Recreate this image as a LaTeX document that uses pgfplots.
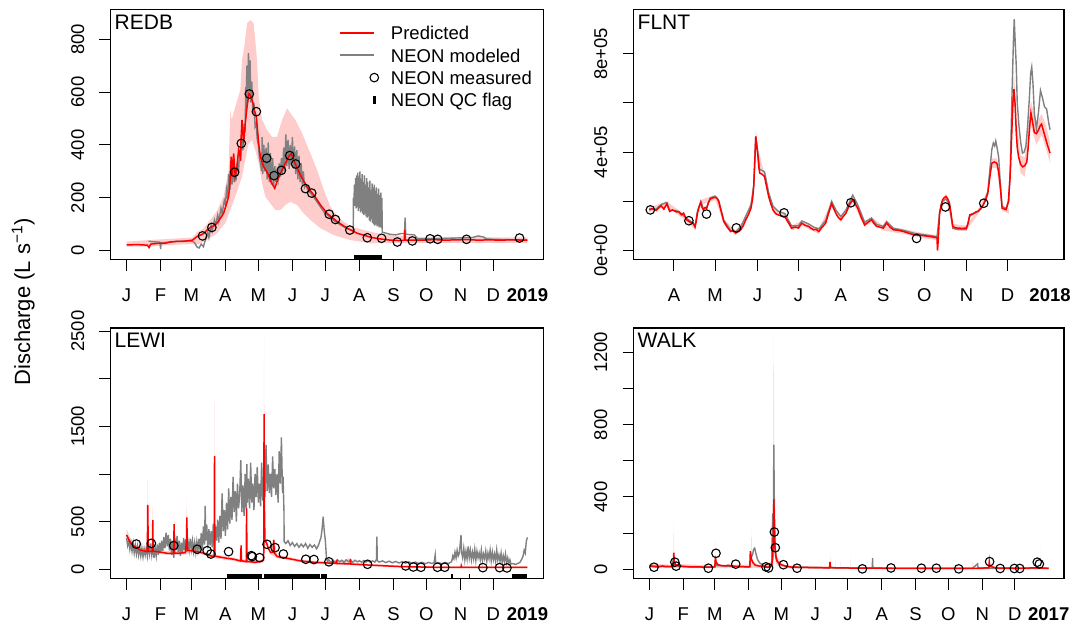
\documentclass[border=0pt]{standalone}
\usepackage{pgfplots}
\pgfplotsset{compat=1.18}
\usepackage{fontspec}
\setmainfont{Liberation Sans}
\definecolor{rgray}{RGB}{128,128,128}
\definecolor{pred}{RGB}{255,0,0}
\newcommand{\tfont}{\fontsize{18.5}{22}\selectfont}
\tikzset{plab/.style={anchor=north west, inner sep=0pt, xshift=4pt, yshift=-5pt, font=\fontsize{21}{24}\selectfont}}
\newcommand{\legkey}[1]{\llap{\textcolor{#1}{\rule[5.65pt]{34.5pt}{2pt}}\hspace{16.5pt}}}
\pgfplotsset{
  rpanel/.style={
    scale only axis,
    axis line style={black, line width=1.1pt},
    tick align=outside,
    tick pos=left,
    major tick length=11pt,
    tick style={black, line width=1pt},
    tick label style={font=\tfont},
    xticklabel style={anchor=north, inner sep=0pt, yshift=-18pt},
    yticklabel style={xshift=-15pt, rotate=90, anchor=south, inner sep=0pt},
    scaled y ticks=false,
    extra x tick style={major tick style={draw=none}},
  },
  emptyleg/.style={legend image code/.code={\path[draw=none,fill=none] (0pt,-6pt) rectangle (51pt,6pt);}},
  circleg/.style={legend image code/.code={\path[draw=none,fill=none] (0pt,-6pt) rectangle (51pt,6pt); \draw[black, line width=1.1pt] (34.3pt,0pt) circle (4.3pt);}},
  qcleg/.style={legend image code/.code={\path[draw=none,fill=none] (0pt,-6pt) rectangle (51pt,6pt); \fill[black] (33.3pt,-3.3pt) rectangle (35.3pt,3.3pt);}},
  predband/.style={draw=none, fill=red, fill opacity=0.2, forget plot},
  neonline/.style={rgray, line width=1.4pt, forget plot},
  predline/.style={pred, line width=1.5pt, forget plot},
  meas/.style={only marks, mark=o, mark size=4.3pt, mark options={black, line width=1.1pt}, forget plot},
  qc/.style={black, line width=4.5pt, forget plot},
}
\begin{document}
\begin{tikzpicture}
\useasboundingbox (0,0) rectangle (1073pt,624pt);
% ================= REDB =================
\begin{axis}[rpanel, at={(110.5pt,364.3pt)}, anchor=south west, width=433pt, height=249.8pt,
  xmin=-14.6, xmax=379.6, ymin=-34, ymax=911,
  xtick={0,31,59,90,120,151,181,212,243,273,304,334},
  xticklabels={J,F,M,A,M,J,J,A,S,O,N,D},
  extra x ticks={365}, extra x tick labels={\textbf{2019}},
  ytick={0,200,400,600,800}, yticklabels={0,200,400,600,800},
  legend style={at={(axis description cs:0.530,0.9333)}, anchor=north west, draw=none, fill=none,
    inner sep=0pt, outer sep=0pt, row sep=8.9pt, font=\tfont,
    nodes={inner sep=0pt, text height=13.3pt, text depth=0pt}},
  legend cell align=left,
]
\addlegendimage{emptyleg}
\addlegendentry{\legkey{pred}Predicted}
\addlegendimage{emptyleg}
\addlegendentry{\legkey{rgray}NEON modeled}
\addlegendimage{circleg}
\addlegendentry{NEON measured}
\addlegendimage{qcleg}
\addlegendentry{NEON QC flag}
\addplot[predband] coordinates {
(0,34) (19,40) (40,45) (60,50) (64,70) (69.6,82) (73.2,100) (77,120) (82.3,150) (86,185) (88.3,204) (92.9,305) (94.4,532) (95.7,495) (99,545) (103.6,608) (105.1,721) (107.2,772) (109.7,860) (112.7,873) (115.7,860) (117.2,797) (118.8,721) (120.3,583) (123.4,495) (127.9,457) (132.5,431) (137,431) (141.6,495) (146.2,539) (149.2,520) (153.7,495) (159.9,444) (167.4,368) (173.5,305) (179.6,230) (185.7,166) (191.8,129) (203.9,91) (222.2,72) (235,60) (253,55) (253.2,95) (253.6,55) (270,52) (300,52) (330,51) (365,50)
(365,30) (300,30) (260,30) (222.2,28) (203.9,40) (188.7,59) (176.6,85) (167.4,116) (161.3,141) (155.3,173) (149.2,185) (144.6,173) (140.1,154) (135.5,154) (130.9,179) (126.4,204) (123.4,255) (120.3,331) (117.2,381) (114.2,419) (111.1,406) (108.1,343) (105.1,280) (102,242) (99,204) (94.4,154) (89.9,104) (82.3,66) (73.2,40) (64,22) (60,25) (40,22) (19,15) (0,15)
};
\addplot[neonline] coordinates {
(20,36) (24,34) (28,33) (30.5,32) (31,6) (31.5,30) (38,32) (45,35) (55,37) (60,36) (62,30) (64,15) (66,10) (68,25) (70,15) (72,45) (74,70) (75,50) (77,95) (78,75) (80,115) (81,95) (83,135) (84,110) (86,160) (87,140) (89,190) (90,175) (91,230) (92,200) (93,290) (94,230) (95,310) (96,250) (97,320) (98,260) (99,300) (100,280) (101,330) (102,300) (103,380) (104,340) (105,420) (106,380) (107,480) (108,450) (108.5,620) (109,520) (109.5,700) (110,560) (111,747) (112,600) (112.5,720) (113,560) (114,640) (115,520) (116,560) (117,470) (118,480) (119,420) (120,400) (121,350) (122,330) (123,300) (123.5,430) (124,290) (125,400) (126,300) (127,390) (128,270) (129,410) (130,260) (131,370) (132,250) (133,350) (134,245) (135,320) (136,260) (137,300) (138,270) (139,330) (140,280) (141,350) (142,290) (143,390) (144,300) (145,440) (146,320) (147,420) (148,310) (149,400) (150,320) (151,430) (152,310) (153,395) (154,290) (155,380) (156,270) (157,360) (158,260) (159,330) (160,250) (161,300) (162,240) (163,250) (165,230) (170,205) (180,145) (190,110) (200,85) (206.4,75)
(206.5,200) (207,185) (207.5,250) (208,170) (208.5,275) (209,160) (209.5,285) (210,165) (210.5,295) (211,150) (211.5,280) (212,160) (212.5,300) (213,145) (213.5,270) (214,150) (214.5,290) (215,140) (215.5,260) (216,135) (216.5,285) (217,140) (217.5,250) (218,130) (218.5,275) (219,125) (219.5,260) (220,130) (220.5,240) (221,115) (221.5,265) (222,110) (222.5,230) (223,120) (223.5,255) (224,105) (224.5,240) (225,100) (225.5,250) (226,95) (226.5,225) (227,100) (227.5,240) (228,92) (228.5,215) (229,95) (229.5,235) (230,88) (230.5,210) (231,90) (231.5,220) (232,85) (232.5,200) (232.8,70)
(240,62) (245,60) (250,65) (253,65) (253.6,125) (254.2,62) (262,60) (265,45) (280,45) (300,48) (315,50) (320,56) (325,52) (328,44) (345,42) (365,40)
};
\addplot[predline] coordinates {
(0,22) (10,23) (19,21) (20.5,12) (22,25) (30,28) (35,28) (39.8,33) (45,35) (50,35) (55,37) (60,40) (64,53) (68,60) (70.5,66) (73.2,78) (77,90) (80,95) (82.3,104) (85,120) (88.3,141) (90.5,170) (92.9,204) (94,250) (95.3,356) (96.2,280) (97.5,368) (99,280) (100.5,318) (102,381) (103.5,356) (105.1,495) (106.6,406) (108.1,482) (109.7,545) (111.5,595) (113.3,583) (115.1,558) (116.3,532) (118.2,507) (120.3,406) (121.8,356) (124.8,318) (128.5,293) (131.5,261) (134.9,236) (137.6,268) (141.6,305) (144.6,331) (147.6,356) (149.8,368) (152.2,343) (155.3,312) (159.9,274) (164.4,242) (170.5,211) (176.6,173) (182.7,141) (191.8,110) (200.9,85) (210,66) (222.2,51) (230,45) (240,40) (250,38) (252.8,40) (253.2,78) (253.8,40) (260,40) (270,40) (280,42) (290,40) (300,41) (310,42) (320,40) (330,41) (340,40) (350,41) (365,40)
};
\addplot[meas] coordinates {
(69.2,56) (77.7,88) (98.4,297) (104.5,406) (111.8,593) (118.2,526) (127.6,350) (134.3,284) (141,304) (148.6,360) (154,328) (162.9,235) (168.6,218) (184.5,138) (190.2,118) (203.3,78) (219.2,49) (232.2,47) (246.5,33) (260.2,37) (276.3,45) (283.3,43) (309.5,43) (357.8,48)
};
\addplot[qc] coordinates {(206.9,-25.7) (232.8,-25.7)};
\node[plab] at (rel axis cs:0,1) {REDB};
\end{axis}
% ================= FLNT =================
\begin{axis}[rpanel, at={(633.5pt,364.3pt)}, anchor=south west, width=430.5pt, height=249.8pt,
  xmin=60.4, xmax=375.2, ymin=-37600, ymax=978700,
  xtick={90,120,151,181,212,243,273,304,334},
  xticklabels={A,M,J,J,A,S,O,N,D},
  extra x ticks={365}, extra x tick labels={\textbf{2018}},
  ytick={0,200000,400000,600000,800000}, yticklabels={0e+00,,4e+05,,8e+05},
]
\addplot[predband] coordinates {
(71.9,175000) (80.6,192000) (84.8,200000) (95.4,155000) (105.4,105000) (109.6,205000) (116.5,220000) (120.2,226000) (126.4,128000) (135.1,81000) (142.5,135000) (147.5,220000) (149.8,490000) (151.2,420000) (156.2,311000) (162.4,175000) (171.1,148000) (176,101000) (183.5,121000) (195.9,87000) (205.3,200000) (212,135000) (220.7,216000) (229.4,114000) (234.4,135000) (243,101000) (257.9,87000) (272.8,70000) (282.3,62000) (284.2,162000) (288.9,232000) (293.9,108000) (303.8,101000) (312.5,170000) (319.5,245000) (322.4,375000) (326.1,375000) (329.9,182000) (334.8,170000) (336.8,480000) (338.6,729000) (340.3,540000) (343.5,385000) (346.5,380000) (351,610000) (355,520000) (358.8,555000) (362,510000) (365,438000)
(365,356000) (362,415000) (358.8,470000) (355,430000) (351,505000) (346.5,300000) (343.5,315000) (340.3,430000) (338.6,600000) (336.8,420000) (334.8,150000) (329.9,162000) (326.1,335000) (322.4,335000) (319.5,220000) (312.5,148000) (303.8,81000) (293.9,88000) (288.9,208000) (284.2,142000) (282.3,42000) (272.8,50000) (257.9,67000) (243,81000) (234.4,115000) (229.4,94000) (220.7,196000) (212,115000) (205.3,180000) (195.9,67000) (183.5,101000) (176,81000) (171.1,128000) (162.4,155000) (156.2,291000) (151.2,375000) (149.8,440000) (147.5,200000) (142.5,115000) (135.1,61000) (126.4,108000) (120.2,206000) (116.5,199000) (109.6,185000) (105.4,85000) (95.4,135000) (84.8,180000) (80.6,172000) (71.9,155000)
};
\addplot[neonline] coordinates {
(71.9,170000) (76.9,168000) (80.6,187000) (84.8,195000) (86.8,164000) (91.7,162000) (95.4,150000) (99.2,130000) (102.9,116000) (105.4,100000) (107.1,157000) (109.6,200000) (111.5,170000) (114,177000) (116.5,214000) (120.2,221000) (122.7,204000) (126.4,123000) (131.4,82000) (135.1,76000) (138.8,95000) (142.5,140000) (146.3,185000) (148.3,265000) (149.8,464000) (151.2,400000) (152.7,330000) (156.2,320000) (159.2,235000) (162.4,180000) (166.1,160000) (171.1,150000) (173.5,125000) (176,100000) (181,100000) (183.5,120000) (188.4,108000) (192.2,95000) (195.9,88000) (200.9,122000) (205.3,200000) (208.3,165000) (212,138000) (215.8,165000) (220.7,225000) (224.4,185000) (229.4,115000) (234.4,132000) (238.1,106000) (243,98000) (245.5,118000) (250.5,90000) (257.9,82000) (265.4,70000) (272.8,64000) (280.2,58000) (282.3,55000) (284.2,150000) (286.4,200000) (288.9,210000) (291.4,185000) (293.9,90000) (297.6,85000) (303.8,85000) (306.3,140000) (312.5,160000) (316.2,185000) (319.5,240000) (321,330000) (322.4,410000) (323.5,437000) (324.5,425000) (325.3,445000) (326.1,423000) (327.4,380000) (328.6,274000) (329.9,180000) (332.9,170000) (334.8,200000) (336,342000) (337,600000) (338.2,850000) (338.8,941000) (339.5,850000) (340.3,749000) (341,600000) (342.3,504000) (343.5,440000) (344.8,396000) (346,400000) (347.3,423000) (348.5,500000) (349.8,613000) (350.8,720000) (351.6,746000) (352.5,680000) (353.5,560000) (355,495000) (356.5,560000) (358,651000) (359.5,620000) (360.9,585000) (362.5,575000) (364,520000) (365,491000)
};
\addplot[predline] coordinates {
(71.9,165000) (74,170000) (76.9,163000) (78.5,172000) (80.6,182000) (82.6,168000) (84.8,190000) (86.8,159000) (89,165000) (91.7,157000) (93.5,158000) (95.4,145000) (97,152000) (99.2,125000) (101,118000) (102.9,111000) (104,112000) (105.4,95000) (106.3,120000) (107.1,152000) (108.5,180000) (109.6,195000) (110.5,175000) (111.5,165000) (112.8,175000) (114,172000) (115.2,195000) (116.5,209000) (118.3,214000) (120.2,216000) (121.5,212000) (122.7,199000) (124,170000) (126.4,118000) (128.9,95000) (131.4,77000) (133.2,80000) (135.1,71000) (136.9,76000) (138.8,84000) (140.6,100000) (142.5,125000) (144.4,145000) (146.3,172000) (147.5,210000) (148.3,260000) (149,350000) (149.8,464000) (150.5,430000) (151.2,396000) (152,340000) (152.7,315000) (154.4,310000) (156.2,301000) (157.7,260000) (159.2,220000) (160.8,190000) (162.4,165000) (164.3,150000) (166.1,145000) (168.6,140000) (171.1,138000) (173.5,115000) (176,91000) (178.5,95000) (181,91000) (183.5,111000) (186,102000) (188.4,98000) (190.3,90000) (192.2,84000) (194,86000) (195.9,77000) (198.4,95000) (200.9,111000) (203,150000) (205.3,190000) (206.8,170000) (208.3,152000) (210,135000) (212,125000) (214,140000) (215.8,152000) (218.2,185000) (220.7,206000) (222.5,190000) (224.4,172000) (226.9,135000) (229.4,104000) (231.9,115000) (234.4,125000) (236.2,110000) (238.1,98000) (240.5,95000) (243,91000) (245.5,111000) (248,95000) (250.5,84000) (254,82000) (257.9,77000) (261.6,70000) (265.4,64000) (269,62000) (272.8,60000) (276.5,57000) (280.2,54000) (282.3,52000) (282.7,0) (283.2,40000) (284.2,152000) (285.3,185000) (286.4,206000) (287.6,215000) (288.9,220000) (290.2,210000) (291.4,193000) (292.6,150000) (293.9,98000) (295.7,92000) (297.6,91000) (300.7,90000) (303.8,91000) (305,110000) (306.3,145000) (308.8,150000) (311.2,158000) (312.5,159000) (314.4,170000) (316.2,186000) (317.9,205000) (319.5,233000) (321,300000) (322.4,355000) (324.2,360000) (326.1,355000) (327.4,320000) (328.6,260000) (329.9,172000) (332.9,166000) (334.5,200000) (335.8,300000) (336.8,450000) (337.8,600000) (338.6,656000) (339.5,590000) (340.3,480000) (341,420000) (342,380000) (343.5,350000) (345,340000) (346.5,345000) (348,360000) (349,420000) (350,500000) (351,559000) (352,530000) (353.5,480000) (355,475000) (356.5,490000) (358,510000) (358.8,514000) (360,490000) (361.5,460000) (363,430000) (365,396000)
};
\addplot[meas] coordinates {
(72.7,165000) (100.9,121000) (113.8,148000) (135.6,92000) (170.5,153000) (219.3,194000) (267.4,49000) (288.5,177000) (316.5,192000)
};
\node[plab] at (rel axis cs:0,1) {FLNT};
\end{axis}
% ================= LEWI =================
\begin{axis}[rpanel, at={(110.5pt,45.5pt)}, anchor=south west, width=433pt, height=250.5pt,
  xmin=-14.6, xmax=379.6, ymin=-97, ymax=2533,
  xtick={0,31,59,90,120,151,181,212,243,273,304,334},
  xticklabels={J,F,M,A,M,J,J,A,S,O,N,D},
  extra x ticks={365}, extra x tick labels={\textbf{2019}},
  ytick={0,500,1000,1500,2000,2500}, yticklabels={0,500,,1500,,2500},
]
\addplot[predband] coordinates {
(0,430) (3.5,320) (6.5,275) (12.6,232) (18.8,215) (19.3,937) (19.8,215) (23.5,210) (23.9,690) (24.4,210) (27.8,210) (37,190) (42.8,190) (43.3,622) (43.8,190) (47.5,190) (54.4,200) (54.9,751) (55.4,215) (58.3,215) (64.4,205) (70.5,188) (76.6,160) (79.6,155) (80.1,1804) (80.6,155) (91.6,133) (97.7,123) (104,105) (104.5,290) (105,105) (108.8,98) (109.3,700) (109.8,98) (117.5,90) (124.7,105) (125.2,2440) (125.7,300) (127.4,310) (131.2,195) (134,330) (137.3,150) (146.4,132) (158.6,103) (170.8,88) (182.9,80) (192,78) (203.9,120) (205,72) (219.1,58) (249.5,40) (279.9,32) (340.8,32) (365,32)
(365,12) (279.9,12) (249.5,18) (219.1,33) (205,43) (192,49) (182.9,52) (170.8,58) (158.6,72) (146.4,98) (137.3,115) (131.2,155) (127.4,255) (125.7,250) (124.7,70) (117.5,57) (104,70) (97.7,88) (91.6,98) (80.6,115) (76.6,122) (70.5,150) (64.4,165) (58.3,175) (54.4,155) (47.5,150) (37,150) (27.8,165) (23.5,160) (18.8,160) (12.6,180) (6.5,215) (3.5,245) (0,320)
};
\addplot[neonline] coordinates {
(0,330) (1,250) (2,300) (3,210) (4,280) (5,190) (6,270) (7,170) (8,250) (9,160) (10,240) (11,150) (12,230) (13,140) (14,220) (15,130) (16,215) (17,150) (18,230) (19,140) (20,250) (21,160) (22,270) (23,150) (24,240) (25,120) (26,230) (27,140) (28,260) (29,150) (30,280) (31,170) (32,300) (33,190) (34,340) (35,220) (36,385) (37,240) (38,360) (39,200) (40,320) (41,150) (42,300) (43,120) (44,330) (45,200) (46,350) (47,180) (48,300) (49,140) (50,280) (51,170) (52,330) (53,200) (54,315) (55,180) (56,290) (57,200) (58,320) (59,210) (60,300) (61,190) (62,280) (63,180) (64,290) (65,200) (66,320) (67,190) (68,380) (69,200) (70,450) (71,260) (71.6,665) (72,300) (73,470) (74,220) (75,420) (76,250) (77,400) (78,230) (79,480) (80,260) (81,450) (82,300) (83,520) (84,280) (85,560) (86,320) (87,797) (88,400) (89,620) (90,350) (91,700) (92,420) (93,850) (94,480) (95,760) (96,520) (97,971) (98,600) (99,820) (100,500) (101,900) (102,640) (103,780) (104,1146) (105,600) (106,880) (107,560) (108,1000) (109,620) (109.5,1104) (110,700) (111,950) (112,640) (113,1120) (114,700) (115,900) (116,620) (117,1000) (118,760) (119,1076) (120,700) (121,900) (122,660) (123,1120) (124,720) (125,950) (126,760) (127,1307) (128,820) (129,1100) (130,800) (131,1000) (132,760) (133,1184) (134,850) (135,1050) (136,780) (137,1000) (138,700) (139,1240) (140,900) (141,1385) (142,800) (142.5,972) (143.3,620) (143.5,290) (145,270) (147,300) (149,250) (151,280) (153,240) (155,270) (157,230) (159,265) (161,235) (163,270) (165,220) (167,260) (169,230) (171,255) (173,215) (175,260) (176,300) (177,330) (178,420) (179,552) (180,400) (181,300) (182,120) (183,80)
(184,100) (186,70) (188,95) (190,75) (192,100) (194,78) (196,95) (198,72) (200,98) (202,80) (204,92) (206,75) (208,95) (210,78) (212,90) (214,74) (216,92) (218,76) (220,90) (222,72) (224,88) (226,75) (227.5,100) (227.9,342) (228.3,90) (230,75) (233,88) (236,70) (239,85) (242,68) (245,82) (248,66) (251,80) (254,64) (257,78) (260,62) (263,76) (266,60) (269,74) (272,58) (275,72) (278,60) (280,70) (281,150) (281.5,62) (284,70) (287,58) (290,72) (293,60) (296,80) (297,140) (298,110) (299,180) (300,120) (301,200) (302,140) (303,170) (304.5,360) (305,180) (306,120) (307,220) (308,100) (309,190) (310,110) (311,240) (312,120) (313,200) (314,100) (315,180) (316,110) (317,210) (318,95) (319,190) (320,120) (321,170) (322,100) (323,200) (324,90) (325,160) (326,110) (327,190) (328,85) (329,170) (330,110) (331,200) (332,90) (333,180) (334,100) (335,160) (336,80) (337,200) (338,95) (339,150) (340,85) (341,170) (342,70) (343,140) (344,80) (345,160) (346,70) (347,120) (348,60) (349,100) (350,55) (352,60) (354,50) (356,60) (358,70) (360,110) (361,140) (362,200) (363,170) (364,300) (365,335)
};
\addplot[predline] coordinates {
(0,360) (3.5,279) (6.5,245) (12.6,202) (18.8,185) (19.1,400) (19.3,675) (19.6,400) (19.9,190) (23.6,185) (23.9,517) (24.2,190) (27.8,185) (37,168) (42.9,165) (43.3,475) (43.7,170) (47.5,168) (53.6,175) (54.6,300) (54.9,545) (55.2,300) (55.6,200) (58.3,195) (64.4,185) (70.5,168) (76.6,140) (79.8,135) (80.1,1189) (80.4,140) (82.5,133) (91.6,115) (97.7,105) (103.8,87) (104.3,250) (104.6,90) (109,80) (109.3,640) (109.6,82) (111.4,80) (117.5,73) (123.6,87) (124.9,100) (125.2,1629) (125.6,600) (126,300) (127.4,280) (129,220) (131.2,175) (133.5,180) (134,307) (134.5,170) (137.3,133) (146.4,115) (158.6,87) (170.8,73) (182.9,66) (191,63) (191.3,98) (191.6,60) (203.6,56) (203.9,105) (204.2,55) (219.1,45) (249.5,28) (279.9,21) (304.5,21) (304.7,35) (305,21) (340.8,21) (365,21)
};
\addplot[meas] coordinates {
(8.9,265) (22.6,272) (43,248) (64.3,210) (73.4,195) (76.8,160) (92.9,185) (113.6,143) (114.5,133) (121.2,122) (127.9,262) (135.2,227) (142.8,160) (163.2,105) (170.6,102) (184.2,78) (219.4,52) (254.1,35) (261.1,24) (268,21) (283,21) (289.7,21) (324.4,17) (339.6,17) (346.3,14)
};
\addplot[qc] coordinates {(91.7,-77.6) (123.6,-77.6)};
\addplot[qc] coordinates {(125.2,-77.6) (176.3,-77.6)};
\addplot[qc] coordinates {(177.2,-77.6) (182.9,-77.6)};
\addplot[qc] coordinates {(295.6,-77.6) (296.9,-77.6)};
\addplot[qc] coordinates {(311.4,-77.6) (312.7,-77.6)};
\addplot[qc] coordinates {(350.6,-77.6) (365,-77.6)};
\node[plab] at (rel axis cs:0,1) {LEWI};
\end{axis}
% ================= WALK =================
\begin{axis}[rpanel, at={(633.5pt,45.5pt)}, anchor=south west, width=430.5pt, height=250.5pt,
  xmin=-14.6, xmax=380, ymin=-51.4, ymax=1335,
  xtick={0,31,60,91,121,152,182,213,244,274,305,335},
  xticklabels={J,F,M,A,M,J,J,A,S,O,N,D},
  extra x ticks={366}, extra x tick labels={\textbf{2017}},
  ytick={0,200,400,600,800,1000,1200}, yticklabels={0,,400,,800,,1200},
]
\addplot[predband] coordinates {
(0,30) (22,25) (22.4,263) (22.8,30) (60,20) (60.1,162) (60.6,25) (93.4,25) (93.6,226) (94.2,60) (96,40) (100,25) (113,40) (113.4,400) (113.8,1284) (114.3,800) (114.7,300) (115.5,150) (117,70) (120,40) (125,20) (165.4,15) (165.6,97) (165.9,15) (170.2,12) (170.3,51) (170.5,12) (174.8,12) (174.9,42) (175.1,12) (184.1,12) (184.2,79) (184.4,12) (224.5,10) (224.6,40) (224.8,10) (296,10) (296.1,42) (296.3,10) (311.5,12) (311.7,85) (312,12) (358.2,12) (358.3,121) (358.5,12) (366,10)
(366,1) (200,1) (130,3) (117,20) (115,50) (114,150) (113.5,10) (100,8) (60,6) (0,8)
};
\addplot[neonline] coordinates {
(0,18) (20,15) (22.3,60) (23,20) (40,12) (60,12) (60.5,50) (61.5,20) (80,15) (92,13) (93,60) (94.5,80) (95.5,110) (96.5,116) (97.5,90) (99,55) (101,35) (104,22) (108,12) (112,20) (113,309) (113.5,100) (114,690) (114.6,300) (115.2,120) (116,60) (118,35) (122,22) (130,12) (160,8) (200,6) (204.3,6) (204.5,61) (204.8,6) (250,5) (296,5) (300.8,30) (301.2,5) (330,5) (366,5)
};
\addplot[predline] coordinates {
(0,20) (3,15) (8,12) (12,18) (15,14) (20,15) (22,14) (22.3,92) (22.8,40) (24,25) (27,18) (32,14) (40,13) (50,12) (58,11) (60,14) (60.5,70) (61,40) (63,25) (66,20) (70,18) (72,22) (75,17) (80,16) (85,14) (90,13) (92,14) (92.5,100) (93.5,55) (95,35) (97,22) (100,18) (105,14) (108,10) (110,12) (112,20) (113,60) (113.6,200) (114,386) (114.5,250) (115,120) (116,70) (117,45) (119,30) (122,22) (126,15) (130,12) (140,10) (150,9) (160,8) (165,8) (165.5,40) (166,10) (170,8) (180,7) (190,6) (200,6) (220,5) (250,5) (280,5) (300,5) (311,8) (311.5,40) (312,15) (320,6) (340,5) (355,8) (360,6) (366,5)
};
\addplot[meas] coordinates {
(4.2,11) (23.3,39) (24.5,17) (54,5.5) (61,88) (79.1,28) (106.8,13) (109.2,7) (114.5,206) (115.4,119) (122.8,25) (135.3,5.5) (195.2,2) (221.4,7) (249.3,5.5) (263,5.5) (283.5,2) (311.8,42) (321.5,4) (334.5,4) (339.4,4) (355.5,39) (357.4,29)
};
\node[plab] at (rel axis cs:0,1) {WALK};
\end{axis}
\node[rotate=90, anchor=base, font=\fontsize{22}{26}\selectfont] at (30pt,322pt) {Discharge (L s\textsuperscript{−1})};
\end{tikzpicture}
\end{document}
